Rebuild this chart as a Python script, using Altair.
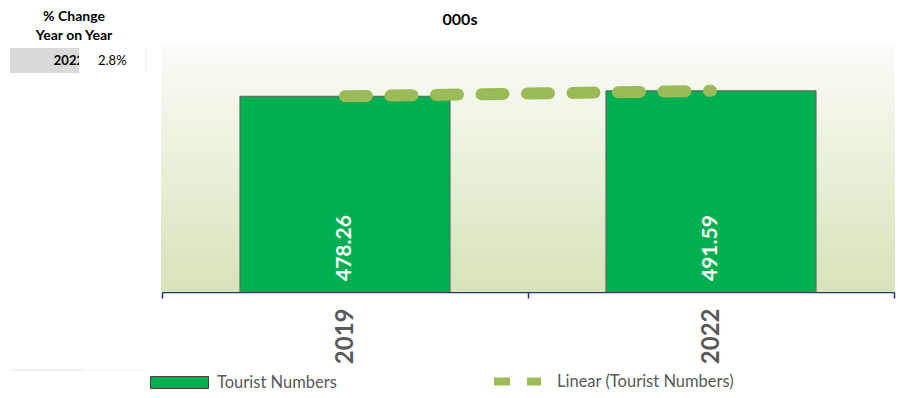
import altair as alt
import pandas as pd

# ---- data ----
years = ["2019", "2022"]
tourists = [478.26, 491.59]
series_bar = "Tourist Numbers"
series_trend = "Linear (Tourist Numbers)"
chart_title = "000s"
table_header = ["% Change", "Year on Year"]
table_year = "2022"
table_change = "2.8%"

W, H = 732, 248
FONT = "Lato"

df = pd.DataFrame({"year": years, "value": tourists,
                   "bar": [series_bar] * 2, "trend": [series_trend] * 2})

xscale = alt.Scale(domain=years, paddingInner=0, paddingOuter=0)
yscale = alt.Scale(domain=[0, 606])

base = alt.Chart(df)

bg = alt.Chart(alt.Data(values=[{}])).mark_rect(
    color=alt.LinearGradient(
        gradient="linear", x1=0, x2=0, y1=0, y2=1,
        stops=[alt.GradientStop(offset=0, color="#FBFCF8"),
               alt.GradientStop(offset=1, color="#D6E3B9")]
    )
).encode(x=alt.value(-1), x2=alt.value(W + 1), y=alt.value(0), y2=alt.value(H))

bars = base.mark_bar(stroke="#606060", strokeWidth=1,
                     width=alt.RelativeBandSize(0.574)).encode(
    x=alt.X("year:N", scale=xscale, title=None,
            axis=alt.Axis(labelAngle=-90, labelFont=FONT, labelFontSize=24,
                          labelFontWeight="bold", labelColor="#595959",
                          domainColor="#203864", domainWidth=1.5,
                          tickColor="#203864", tickWidth=1.5, tickSize=6,
                          tickBand="extent", labelPadding=10)),
    y=alt.Y("value:Q", scale=yscale, axis=None),
    fill=alt.Fill("bar:N", scale=alt.Scale(domain=[series_bar], range=["#00B050"]),
                  legend=alt.Legend(title=None, orient="none", legendX=-12, legendY=309,
                                    symbolType="M-1,-0.207H1V0.207H-1Z", symbolSize=3364,
                                    symbolStrokeColor="#404040", symbolStrokeWidth=1,
                                    labelFont=FONT, labelFontSize=16.5, labelColor="#595959",
                                    labelOffset=8, labelLimit=300)),
)

labels = base.mark_text(angle=270, align="left", baseline="middle", dx=11,
                        color="white", font=FONT, fontSize=21, fontWeight="bold").encode(
    x=alt.X("year:N", scale=xscale),
    y=alt.Y("zero:Q", scale=yscale),
    text=alt.Text("value:Q", format=".2f"),
).transform_calculate(zero="0")

trend = base.mark_line(strokeWidth=12, strokeCap="round", strokeDash=[22, 23.5]).encode(
    x=alt.X("year:N", scale=xscale),
    y=alt.Y("value:Q", scale=yscale),
    stroke=alt.Stroke("trend:N", scale=alt.Scale(domain=[series_trend], range=["#9BBB59"]),
                      legend=alt.Legend(title=None, orient="none", legendX=328, legendY=310,
                                        symbolType="stroke", symbolSize=2209,
                                        symbolStrokeWidth=8, symbolDash=[16, 17],
                                        labelFont=FONT, labelFontSize=16.5, labelColor="#595959",
                                        labelOffset=12, labelLimit=300)),
)

one = alt.Data(values=[{}])
title_t = alt.Chart(one).mark_text(font=FONT, fontSize=16, fontWeight="bold", color="#000000",
                                   baseline="middle").encode(
    x=alt.value(298), y=alt.value(-24), text=alt.value(chart_title))

hdr1 = alt.Chart(one).mark_text(font=FONT, fontSize=14, fontWeight="bold", color="#000000",
                                baseline="middle").encode(
    x=alt.value(-88), y=alt.value(-27), text=alt.value(table_header[0]))
hdr2 = alt.Chart(one).mark_text(font=FONT, fontSize=14, fontWeight="bold", color="#000000",
                                baseline="middle").encode(
    x=alt.value(-88), y=alt.value(-8), text=alt.value(table_header[1]))
cell_bg = alt.Chart(one).mark_rect(color="#D9D9D9").encode(
    x=alt.value(-152), x2=alt.value(-83), y=alt.value(4), y2=alt.value(29))
yr_t = alt.Chart(one).mark_text(font=FONT, fontSize=13, fontWeight="bold", color="#000000",
                                align="right", baseline="middle").encode(
    x=alt.value(-78), y=alt.value(17), text=alt.value(table_year))
clip_r = alt.Chart(one).mark_rect(color="#FFFFFF").encode(
    x=alt.value(-83), x2=alt.value(-72), y=alt.value(4), y2=alt.value(29))
chg_t = alt.Chart(one).mark_text(font=FONT, fontSize=13, color="#000000",
                                 align="left", baseline="middle").encode(
    x=alt.value(-64), y=alt.value(17), text=alt.value(table_change))
vline = alt.Chart(one).mark_rule(color="#DCE6F1", strokeWidth=1).encode(
    x=alt.value(-16), y=alt.value(4), y2=alt.value(29))
hline = alt.Chart(one).mark_rule(color="#E4E4E4", strokeWidth=1).encode(
    x=alt.value(-152), x2=alt.value(-77), y=alt.value(326))
hline2 = alt.Chart(one).mark_rule(color="#F3F3F3", strokeWidth=1).encode(
    x=alt.value(-77), x2=alt.value(-16), y=alt.value(326))

chart = alt.layer(bg, bars, labels, trend, title_t, hdr1, hdr2, cell_bg, yr_t, clip_r,
                  chg_t, vline, hline, hline2).resolve_scale(fill="independent", stroke="independent").properties(
    width=W, height=H,
    autosize=alt.AutoSizeParams(type="none"),
    padding={"left": 154, "top": 36, "right": 10, "bottom": 98},
    background="white",
).configure_view(stroke=None)

chart.save("out.html", embed_options={"renderer": "svg", "actions": False})
